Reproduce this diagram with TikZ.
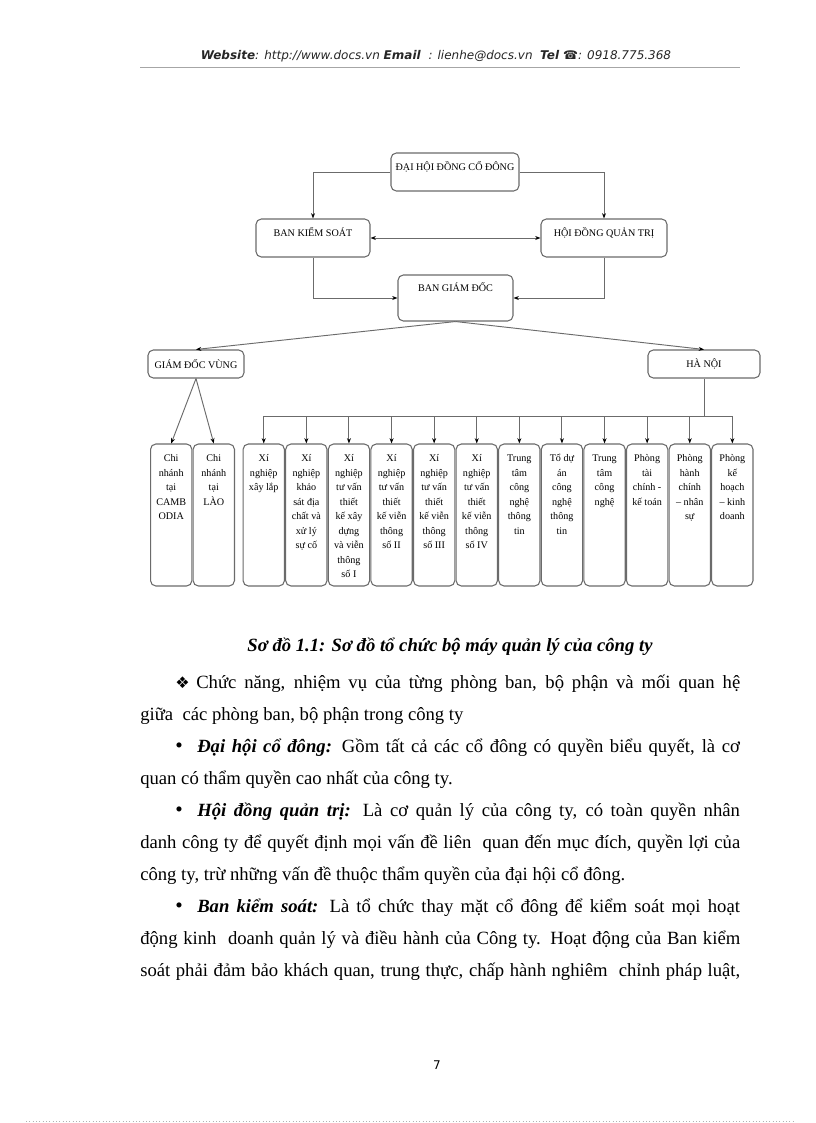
\documentclass[tikz,border=0pt]{standalone}
\usepackage{fontspec}
\setmainfont{Liberation Serif}
\newfontfamily\hdrfont{DejaVu Sans}
\usetikzlibrary{
  arrows.meta,  % Stealth 箭头
  positioning   % 节点相对定位
}
\definecolor{linegray}{gray}{0.42}

% 竖排小框的文字（顶部对齐）
\newcommand{\unittext}[1]{\parbox[c][106.5pt][t]{31pt}{\centering\fontsize{7.6}{10.9}\selectfont\rule{0pt}{13.2pt}#1}}

\begin{document}
\begin{tikzpicture}[x=0.75pt, y=-0.75pt,
  boxfont/.style={font=\fontsize{7.6}{9}\selectfont, text=black},
  orgbox/.style={boxfont, draw=linegray, line width=0.8pt, rounded corners=4pt, fill=white},
  topbox/.style={orgbox, inner ysep=0pt, text height=13.1pt, text depth=15.4pt},
  unit/.style={orgbox, inner sep=0pt},
  line/.style={draw=linegray, line width=0.7pt},
  conn/.style={line, -{Stealth[length=4pt, width=3pt, black]}},
  para/.style={anchor=base west, inner sep=0pt, font=\fontsize{14}{16}\selectfont},
  bul/.style={anchor=base west, inner sep=0pt, font=\fontsize{16}{16}\selectfont}]

  % 页面
  \fill[white] (0,0) rectangle (816,1123);
  \useasboundingbox (0,0) rectangle (816,1123);

  % 页眉
  \node[font=\hdrfont\fontsize{9}{10}\selectfont, text=black!85] (hdr) at (436,56)
    {\textbf{\textit{Website}}\textit{: http://www.docs.vn} \textbf{\textit{Email}}\textit{\ \ : lienhe@docs.vn}\ \ \textbf{\textit{Tel}} \textbf{☎}\textit{: 0918.775.368}};
  \draw[gray!70, line width=0.4pt] (140,67) -- (740,67);

  % 上层机构
  \node[topbox, minimum width=96pt] (dh) at (455,172) {ĐẠI HỘI ĐỒNG CỔ ĐÔNG};
  \node[topbox, minimum width=85.5pt] (bks) at (313,238) {BAN KIỂM SOÁT};
  \node[topbox, minimum width=94.5pt] (hd) at (604,238) {HỘI ĐỒNG QUẢN TRỊ};
  \node[orgbox, inner ysep=0pt, text height=12.4pt, text depth=22.1pt, minimum width=86.25pt] (bgd) at (455.5,298) {BAN GIÁM ĐỐC};
  \node[orgbox, minimum width=72pt, minimum height=21pt] (gdv) at (196,364) {GIÁM ĐỐC VÙNG};
  \node[orgbox, minimum width=84pt, minimum height=21pt] (hn) at (704,364) {HÀ NỘI};

  \draw[conn] (dh.west) -| (bks.north);
  \draw[conn] (dh.east) -| (hd.north);
  \draw[line, {Stealth[length=4pt, width=3pt, black]}-{Stealth[length=4pt, width=3pt, black]}] (bks.east) -- (hd.west);
  \draw[conn] (bks.south) |- (bgd.west);
  \draw[conn] (hd.south) |- (bgd.east);
  \draw[conn] (bgd.south) -- (gdv.north);
  \draw[conn] (bgd.south) -- (hn.north);

  % 分公司
  \node[unit] (cam) at (171.2,515) {\unittext{Chi\\nhánh\\tại\\CAMB\\ODIA}};
  \node[unit] (lao) at (213.8,515) {\unittext{Chi\\nhánh\\tại\\LÀO}};
  \draw[conn] (gdv.south) -- (cam.north);
  \draw[conn] (gdv.south) -- (lao.north);

  % 河内下属单位
  \node[unit] (u1) at (263.75,515) {\unittext{Xí\\nghiệp\\xây lắp}};
  \node[unit] (u2) at (306.35,515) {\unittext{Xí\\nghiệp\\khảo\\sát địa\\chất và\\xử lý\\sự cố}};
  \node[unit] (u3) at (348.95,515) {\unittext{Xí\\nghiệp\\tư vấn\\thiết\\kế xây\\dựng\\và viễn\\thông\\số I}};
  \node[unit] (u4) at (391.55,515) {\unittext{Xí\\nghiệp\\tư vấn\\thiết\\kế viễn\\thông\\số II}};
  \node[unit] (u5) at (434.15,515) {\unittext{Xí\\nghiệp\\tư vấn\\thiết\\kế viễn\\thông\\số III}};
  \node[unit] (u6) at (476.75,515) {\unittext{Xí\\nghiệp\\tư vấn\\thiết\\kế viễn\\thông\\số IV}};
  \node[unit] (u7) at (519.35,515) {\unittext{Trung\\tâm\\công\\nghệ\\thông\\tin}};
  \node[unit] (u8) at (561.95,515) {\unittext{Tổ dự\\án\\công\\nghệ\\thông\\tin}};
  \node[unit] (u9) at (604.55,515) {\unittext{Trung\\tâm\\công\\nghệ}};
  \node[unit] (u10) at (647.15,515) {\unittext{Phòng\\tài\\chính -\\kế toán}};
  \node[unit] (u11) at (689.75,515) {\unittext{Phòng\\hành\\chính\\– nhân\\sự}};
  \node[unit] (u12) at (732.35,515) {\unittext{Phòng\\kế\\hoạch\\– kinh\\doanh}};

  \coordinate (bus) at (704,416);
  \draw[line] (hn.south) -- (hn.south |- bus);
  \draw[line] (u1.north |- bus) -- (u12.north |- bus);
  \foreach \i in {1,...,12}
    \draw[conn] (u\i.north |- bus) -- (u\i.north);

  % 图题
  \node[font=\fontsize{14}{16}\selectfont\bfseries\itshape] (cap) at (450,647)
    {Sơ đồ 1.1: Sơ đồ tổ chức bộ máy quản lý của công ty};

  % 正文
  \node[bul, font=\hdrfont\fontsize{12}{12}\selectfont] (m1) at (175,688) {❖};
  \node[para] (l1) at (196,688) {\makebox[408pt][s]{Chức năng, nhiệm vụ của từng phòng ban, bộ phận và mối quan hệ}};
  \node[para] (l2) at (140,720.1) {giữa\ \ các phòng ban, bộ phận trong công ty};
  \node[bul] (m3) at (175,752.2) {•};
  \node[para] (l3) at (197,752.2) {\makebox[407pt][s]{\textbf{\textit{Đại hội cổ đông:}} Gồm tất cả các cổ đông có quyền biểu quyết, là cơ}};
  \node[para] (l4) at (140,784.3) {quan có thẩm quyền cao nhất của công ty.};
  \node[bul] (m5) at (175,816.4) {•};
  \node[para] (l5) at (197,816.4) {\makebox[407pt][s]{\textbf{\textit{Hội đồng quản trị:}} Là cơ quản lý của công ty, có toàn quyền nhân}};
  \node[para] (l6) at (140,848.5) {\makebox[450pt][s]{danh công ty để quyết định mọi vấn đề liên\ \ quan đến mục đích, quyền lợi của}};
  \node[para] (l7) at (140,880.6) {công ty, trừ những vấn đề thuộc thẩm quyền của đại hội cổ đông.};
  \node[bul] (m8) at (175,912.7) {•};
  \node[para] (l8) at (197,912.7) {\makebox[407pt][s]{\textbf{\textit{Ban kiểm soát:}} Là tổ chức thay mặt cổ đông để kiểm soát mọi hoạt}};
  \node[para] (l9) at (140,944.8) {\makebox[450pt][s]{động kinh\ \ doanh quản lý và điều hành của Công ty. Hoạt động của Ban kiểm}};
  \node[para] (l10) at (140,976.9) {\makebox[450pt][s]{soát phải đảm bảo khách quan, trung thực, chấp hành nghiêm\ \ chỉnh pháp luật,}};

  % 页码与页脚
  \node[font=\hdrfont\fontsize{9}{10}\selectfont] (pg) at (437,1065) {7};
  \draw[gray!60, line width=0.5pt, dotted] (26,1121) -- (795,1121);
\end{tikzpicture}
\end{document}
